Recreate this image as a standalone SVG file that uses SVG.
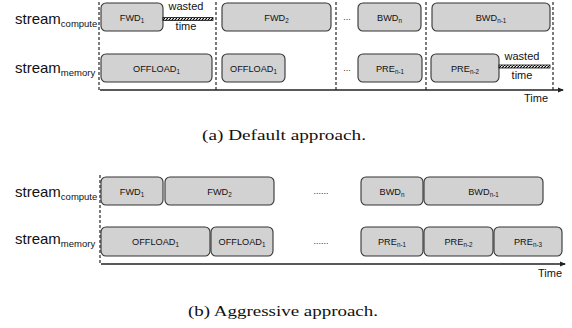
<svg xmlns="http://www.w3.org/2000/svg" width="572" height="328" viewBox="0 0 572 328">
<style>
.box{fill:#d2d2d2;stroke:#333;stroke-width:1.1}
.bl{font-family:"Liberation Sans",Arial,sans-serif;font-size:9.2px;fill:#111;text-anchor:middle}
.sub{font-size:6.3px}
.lab{font-family:"Liberation Sans",Arial,sans-serif;font-size:15px;fill:#111}
.lsub{font-size:9.5px}
.sm{font-family:"Liberation Sans",Arial,sans-serif;font-size:11px;fill:#111}
.dash{stroke:#111;stroke-width:1.1;stroke-dasharray:3,2;fill:none}
.axis{stroke:#222;stroke-width:1.5;fill:none}
.hatch{fill:url(#hp);stroke:#111;stroke-width:0.8}
.cap{font-family:"Liberation Serif","Times New Roman",serif;font-size:15.5px;fill:#111}
.dots{font-family:"Liberation Sans",Arial,sans-serif;font-size:9px;fill:#333;text-anchor:middle}
</style>
<defs>
<pattern id="hp" patternUnits="userSpaceOnUse" width="3" height="3">
<rect width="3" height="3" fill="#fff"/>
<path d="M-1,4 L4,-1" stroke="#000" stroke-width="1.2"/>
</pattern>
<marker id="arr" markerWidth="6" markerHeight="6" refX="5" refY="3" orient="auto" markerUnits="userSpaceOnUse">
<path d="M0,0.5 L6,3 L0,5.5 z" fill="#222"/>
</marker>
</defs>

<!-- (a) Default approach -->
<g id="labels-a">
<text class="lab" x="15" y="24">stream<tspan class="lsub" dy="3">compute</tspan></text>
<text class="lab" x="15" y="73">stream<tspan class="lsub" dy="3">memory</tspan></text>
</g>
<g id="connectors-a">
<line class="dash" x1="99" y1="2" x2="99" y2="90"/>
<line class="dash" x1="216" y1="2" x2="216" y2="90"/>
<line class="dash" x1="336" y1="2" x2="336" y2="90"/>
<line class="dash" x1="426" y1="2" x2="426" y2="90"/>
<line class="dash" x1="553" y1="2" x2="553" y2="90"/>
<line class="axis" x1="100" y1="90" x2="563" y2="90" marker-end="url(#arr)"/>
</g>
<g id="a-fwd1"><rect class="box" x="101" y="3" width="62" height="28" rx="5"/><text class="bl" x="132" y="20.5">FWD<tspan class="sub" dy="2">1</tspan></text></g>
<g id="a-wasted1"><rect class="hatch" x="163" y="17.5" width="50" height="3"/><text class="sm" x="186" y="10" text-anchor="middle">wasted</text><text class="sm" x="186" y="30" text-anchor="middle">time</text></g>
<g id="a-fwd2"><rect class="box" x="222" y="3" width="109" height="28" rx="5"/><text class="bl" x="276.5" y="20.5">FWD<tspan class="sub" dy="2">2</tspan></text></g>
<g id="a-dots1"><text class="dots" x="347" y="20">...</text></g>
<g id="a-bwdn"><rect class="box" x="358" y="3" width="63" height="28" rx="5"/><text class="bl" x="389.5" y="20.5">BWD<tspan class="sub" dy="2">n</tspan></text></g>
<g id="a-bwdn1"><rect class="box" x="432" y="3" width="118" height="28" rx="5"/><text class="bl" x="491" y="20.5">BWD<tspan class="sub" dy="2">n-1</tspan></text></g>
<g id="a-off1"><rect class="box" x="101" y="54" width="111" height="28" rx="5"/><text class="bl" x="156.5" y="71.5">OFFLOAD<tspan class="sub" dy="2">1</tspan></text></g>
<g id="a-off2"><rect class="box" x="222" y="54" width="63" height="28" rx="5"/><text class="bl" x="253.5" y="71.5">OFFLOAD<tspan class="sub" dy="2">1</tspan></text></g>
<g id="a-dots2"><text class="dots" x="347" y="71">...</text></g>
<g id="a-pren1"><rect class="box" x="358" y="54" width="64" height="28" rx="5"/><text class="bl" x="390" y="71.5">PRE<tspan class="sub" dy="2">n-1</tspan></text></g>
<g id="a-pren2"><rect class="box" x="431" y="54" width="68" height="28" rx="5"/><text class="bl" x="465" y="71.5">PRE<tspan class="sub" dy="2">n-2</tspan></text></g>
<g id="a-wasted2"><rect class="hatch" x="499" y="65" width="51" height="3"/><text class="sm" x="522" y="60" text-anchor="middle">wasted</text><text class="sm" x="522" y="79" text-anchor="middle">time</text></g>
<text class="sm" x="524" y="102">Time</text>
<text class="cap" x="202" y="140" textLength="164" lengthAdjust="spacingAndGlyphs">(a)  Default approach.</text>

<!-- (b) Aggressive approach -->
<g id="labels-b">
<text class="lab" x="15" y="197">stream<tspan class="lsub" dy="3">compute</tspan></text>
<text class="lab" x="15" y="244">stream<tspan class="lsub" dy="3">memory</tspan></text>
</g>
<g id="connectors-b">
<line class="dash" x1="100" y1="175" x2="100" y2="263"/>
<line class="axis" x1="101" y1="264" x2="565" y2="264" marker-end="url(#arr)"/>
</g>
<g id="b-fwd1"><rect class="box" x="101" y="177" width="62" height="28" rx="5"/><text class="bl" x="132" y="194.5">FWD<tspan class="sub" dy="2">1</tspan></text></g>
<g id="b-fwd2"><rect class="box" x="165" y="177" width="109" height="28" rx="5"/><text class="bl" x="219.5" y="194.5">FWD<tspan class="sub" dy="2">2</tspan></text></g>
<g id="b-dots1"><text class="dots" x="321" y="194">......</text></g>
<g id="b-bwdn"><rect class="box" x="361" y="177" width="62" height="28" rx="5"/><text class="bl" x="392" y="194.5">BWD<tspan class="sub" dy="2">n</tspan></text></g>
<g id="b-bwdn1"><rect class="box" x="424" y="177" width="119" height="28" rx="5"/><text class="bl" x="483.5" y="194.5">BWD<tspan class="sub" dy="2">n-1</tspan></text></g>
<g id="b-off1"><rect class="box" x="101" y="227" width="109" height="29" rx="5"/><text class="bl" x="155.5" y="245">OFFLOAD<tspan class="sub" dy="2">1</tspan></text></g>
<g id="b-off2"><rect class="box" x="211" y="227" width="62" height="29" rx="5"/><text class="bl" x="242" y="245">OFFLOAD<tspan class="sub" dy="2">1</tspan></text></g>
<g id="b-dots2"><text class="dots" x="321" y="244">......</text></g>
<g id="b-pren1"><rect class="box" x="361" y="227" width="62" height="29" rx="5"/><text class="bl" x="392" y="245">PRE<tspan class="sub" dy="2">n-1</tspan></text></g>
<g id="b-pren2"><rect class="box" x="424" y="227" width="69" height="29" rx="5"/><text class="bl" x="458.5" y="245">PRE<tspan class="sub" dy="2">n-2</tspan></text></g>
<g id="b-pren3"><rect class="box" x="494" y="227" width="68" height="29" rx="5"/><text class="bl" x="528" y="245">PRE<tspan class="sub" dy="2">n-3</tspan></text></g>
<text class="sm" x="538" y="277">Time</text>
<text class="cap" x="188" y="316" textLength="190" lengthAdjust="spacingAndGlyphs">(b)  Aggressive approach.</text>
</svg>
